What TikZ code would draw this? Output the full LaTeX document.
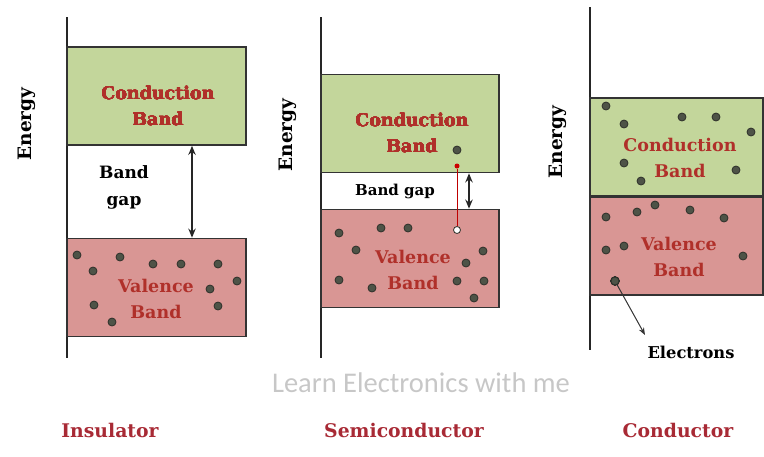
\documentclass[tikz,border=0pt]{standalone}
\usepackage{fontspec}
\newfontfamily\wmfont{Carlito}
\newfontfamily\labfont{DejaVu Serif}
\usetikzlibrary{arrows.meta,positioning}
\definecolor{bandgreen}{HTML}{C3D69B}
\definecolor{bandred}{HTML}{D99694}
\definecolor{bandline}{HTML}{333333}
\definecolor{labred}{HTML}{B0302A}
\definecolor{matred}{HTML}{A82A35}
\definecolor{dotgray}{HTML}{4E5347}
\definecolor{dotdark}{HTML}{2E302A}
\definecolor{wmgray}{gray}{0.78}
\tikzset{
  axisln/.style  = {draw=black!85, line width=2.2pt},
  cband/.style   = {draw=bandline, line width=1.6pt, fill=bandgreen,
                    minimum height=98pt, inner sep=0pt},
  vband/.style   = {cband, fill=bandred},
  blab/.style    = {font=\labfont\bfseries\fontsize{17.5}{26}\selectfont,
                    text=labred, align=center, inner sep=0pt},
  glab/.style    = {font=\labfont\bfseries\fontsize{17}{27}\selectfont,
                    align=center, inner sep=0pt},
  elab/.style    = {font=\labfont\bfseries\fontsize{18.5}{22}\selectfont,
                    rotate=90, inner sep=0pt},
  matlab/.style  = {font=\labfont\bfseries\fontsize{18.8}{22}\selectfont,
                    text=matred, inner sep=0pt},
  wmark/.style   = {font=\wmfont\fontsize{28.5}{32}\selectfont, text=wmgray,
                    inner sep=0pt},
  edot/.style    = {fill=dotgray, draw=dotdark, line width=0.8pt},
  edotn/.style   = {circle, edot, minimum size=8pt, inner sep=0pt},
  gaparr/.style  = {{Stealth[length=3.2mm,width=2.6mm]}-{Stealth[length=3.2mm,width=2.6mm]},
                    line width=1.4pt, draw=black!85},
  earr/.style    = {-{Stealth[length=2.6mm]}, line width=1pt, draw=black!80},
  exline/.style  = {draw=red!75!black, line width=0.8pt},
}
\newcommand{\edot}[2]{%                % #1 = x, #2 = y (pixels)
  \filldraw[edot] (#1,#2) circle (4pt);}

\begin{document}
\begin{tikzpicture}[x=1pt,y=-1pt]
  \useasboundingbox (0,0) rectangle (764,456);
  % energy axes
  \draw[axisln] (67,17) -- (67,358);
  \draw[axisln] (321,17) -- (321,358);
  \draw[axisln] (590,7) -- (590,350);
  \node[elab] (eni) at (27,124) {Energy};
  \node[elab] (ens) at (288,135) {Energy};
  \node[elab] (enc) at (558,142) {Energy};

  % insulator
  \node[cband, minimum width=179pt] (cbi) at (156.5,96) {};
  \node[vband, minimum width=179pt] (vbi) at (156.5,287.5) {};
  \foreach \x/\y in {77/255, 93/271, 120/257, 153/264, 181/264, 218/264,
                     237/281, 210/289, 218/306, 94/305, 112/322}
    \edot{\x}{\y}
  \node[blab] (cbit) at (158,105.5) {Conduction\\Band};
  \node[blab] (vbit) at (156,298.5) {Valence\\Band};
  \node[glab] (gapi) at (124,187) {Band\\gap};
  \coordinate (gi) at (192,0);
  \draw[gaparr] (cbi.south -| gi) -- (vbi.north -| gi);

  % semiconductor
  \node[cband, minimum width=178pt] (cbs) at (410,123.5) {};
  \node[vband, minimum width=178pt] (vbs) at (410,258.5) {};
  \foreach \x/\y in {339/233, 381/228, 408/228, 356/250, 466/263, 483/251,
                     339/280, 372/288, 457/281, 484/281, 474/298, 457/150}
    \edot{\x}{\y}
  \node[blab] (cbst) at (412,132.5) {Conduction\\Band};
  \node[blab] (vbst) at (413,270) {Valence\\Band};
  \node[glab, font=\labfont\bfseries\fontsize{15}{18}\selectfont] (gaps) at (395,191) {Band gap};
  \coordinate (gs) at (469,0);
  \draw[gaparr] (cbs.south -| gs) -- (vbs.north -| gs);
  \node[circle, fill=red!80!black, minimum size=5pt, inner sep=0pt] (rdot) at (457,166) {};
  \node[circle, fill=white, draw=dotdark, line width=0.8pt, minimum size=7pt,
        inner sep=0pt] (hole) at (457,230) {};
  \draw[exline] (rdot) -- (hole);

  % conductor
  \node[cband, minimum width=173pt] (cbc) at (676.5,147) {};
  \node[vband, minimum width=173pt] (vbc) at (676.5,246) {};
  \foreach \x/\y in {606/106, 624/124, 682/117, 716/117, 751/132, 624/163,
                     641/181, 736/170, 606/217, 637/212, 655/205, 690/210,
                     724/218, 606/250, 624/246, 743/256}
    \edot{\x}{\y}
  \node[edotn] (ecd) at (615,281) {};
  \node[blab] (cbct) at (680,158) {Conduction\\Band};
  \node[blab] (vbct) at (679,257) {Valence\\Band};
  \coordinate (etip) at (645,335);
  \draw[earr] (ecd) -- (etip);
  \node[glab, font=\labfont\bfseries\fontsize{16.3}{19}\selectfont] (elec) at (691,352) {Electrons};

  % captions
  \node[wmark] (wm) at (421,383) {Learn Electronics with me};
  \node[matlab] (ins) at (110,430) {Insulator};
  \node[matlab] (semi) at (404,430) {Semiconductor};
  \node[matlab] (cond) at (678,430) {Conductor};
\end{tikzpicture}
\end{document}
